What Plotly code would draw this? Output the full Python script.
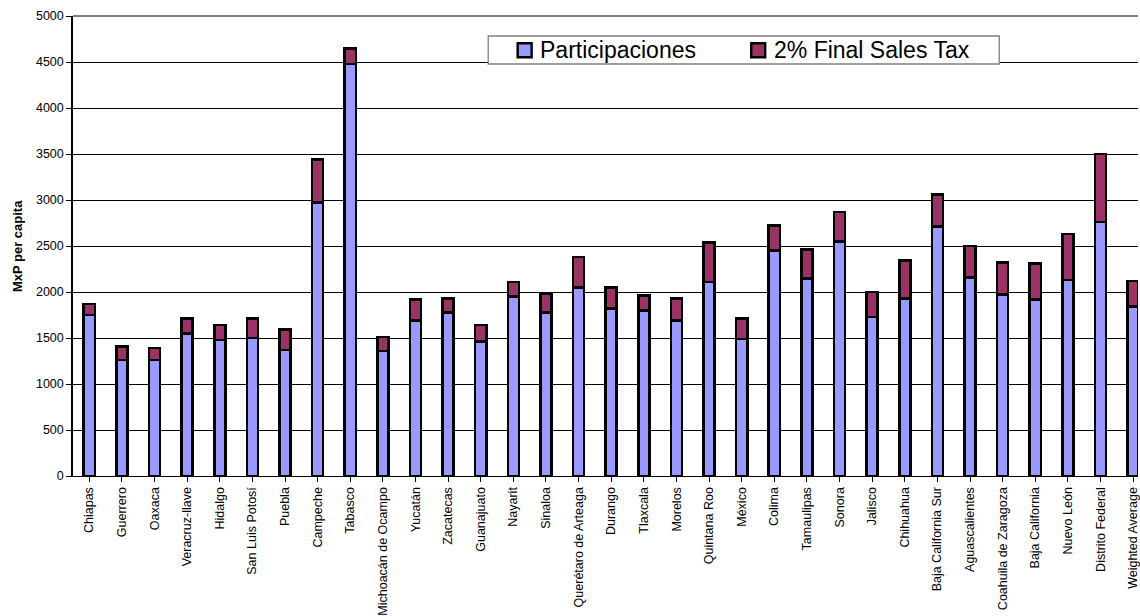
import plotly.graph_objects as go

# Per-capita transfers by state (MxP), stacked: Participaciones + 2% final sales tax
states = [
    "Chiapas", "Guerrero", "Oaxaca", "Veracruz-llave", "Hidalgo", "San Luis Potosí",
    "Puebla", "Campeche", "Tabasco", "Michoacán de Ocampo", "Yucatán", "Zacatecas",
    "Guanajuato", "Nayarit", "Sinaloa", "Querétaro de Arteaga", "Durango", "Tlaxcala",
    "Morelos", "Quintana Roo", "México", "Colima", "Tamaulipas", "Sonora", "Jalisco",
    "Chihuahua", "Baja California Sur", "Aguascalientes", "Coahuila de Zaragoza",
    "Baja California", "Nuevo León", "Distrito Federal", "Weighted Average",
]
participaciones = [
    1750, 1260, 1260, 1550, 1480, 1500, 1370, 2970, 4480, 1360, 1690, 1780,
    1460, 1950, 1780, 2050, 1820, 1800, 1690, 2110, 1490, 2450, 2150, 2550,
    1730, 1930, 2710, 2160, 1970, 1920, 2130, 2760, 1840,
]
sales_tax = [
    120, 150, 130, 160, 160, 210, 220, 470, 170, 150, 230, 150,
    180, 160, 200, 330, 230, 160, 240, 430, 220, 270, 310, 320,
    270, 410, 350, 340, 350, 390, 500, 740, 280,
]
y_ticks = [0, 500, 1000, 1500, 2000, 2500, 3000, 3500, 4000, 4500, 5000]
series_names = ["Participaciones", "2% Final Sales Tax"]
series_colors = ["#9999FF", "#993366"]
y_title = "MxP per capita"

W, H = 1140, 616
L, T, B = 73, 16, 140
plot_w = W - L
plot_h = H - T - B
step = 32.68  # pixel width of one category slot

fig = go.Figure()
for name, vals, col in zip(series_names, [participaciones, sales_tax], series_colors):
    fig.add_trace(go.Bar(
        x=list(range(len(states))), y=vals, name=name,
        marker=dict(color=col, line=dict(color="#000000", width=2.6)),
        width=0.34, showlegend=False,
    ))


def px_x(p):
    return (p - L) / plot_w


def px_y(p):
    return (H - B - p) / plot_h


shapes = [
    # top frame line
    dict(type="line", xref="paper", yref="paper", x0=0, x1=1, y0=1, y1=1,
         line=dict(color="#808080", width=2), layer="above"),
    # legend box
    dict(type="rect", xref="paper", yref="paper",
         x0=px_x(489), x1=px_x(1001), y0=px_y(64), y1=px_y(36),
         fillcolor="white", line=dict(color="#808080", width=1.3), layer="above"),
]
annotations = [
    dict(text="<b>" + y_title + "</b>", xref="paper", yref="paper",
         x=px_x(17), y=0.5, xanchor="center", yanchor="middle", textangle=-90,
         showarrow=False, font=dict(size=13, color="#000000")),
]
legend_items = [(517.5, 539), (751.5, 773)]
for (sx, tx), name, col in zip(legend_items, series_names, series_colors):
    shapes.append(dict(type="rect", xref="paper", yref="paper",
                       x0=px_x(sx + 1), x1=px_x(sx + 15), y0=px_y(57.3), y1=px_y(43.3),
                       fillcolor=col, line=dict(color="#000000", width=2.4), layer="above"))
    annotations.append(dict(text=name, xref="paper", yref="paper",
                            x=px_x(tx), y=px_y(50.5), xanchor="left", yanchor="middle",
                            showarrow=False, font=dict(size=23, color="#000000")))

fig.update_layout(
    barmode="stack",
    width=W, height=H,
    margin=dict(l=L, r=0, t=T, b=B, pad=0),
    paper_bgcolor="white", plot_bgcolor="white",
    font=dict(family="Liberation Sans, Arial, sans-serif", color="#000000"),
    shapes=shapes, annotations=annotations,
    showlegend=False,
)
fig.update_xaxes(
    tickmode="array", tickvals=list(range(len(states))), ticktext=states,
    tickangle=-90, tickfont=dict(size=12.5), ticklabeloverflow="allow",
    range=[-0.5, -0.5 + plot_w / step],
    ticks="outside", tickson="boundaries", ticklen=5, tickcolor="#000000",
    showline=True, linecolor="#000000", linewidth=1.3,
    showgrid=False, zeroline=False,
)
fig.update_yaxes(
    range=[0, 5000], tickmode="array", tickvals=y_ticks,
    tickfont=dict(size=12.5),
    ticks="outside", ticklen=5, tickcolor="#000000",
    showline=True, linecolor="#000000", linewidth=1.5,
    showgrid=True, gridcolor="#000000", gridwidth=1,
    zeroline=False,
)

fig.write_html("out.html")
